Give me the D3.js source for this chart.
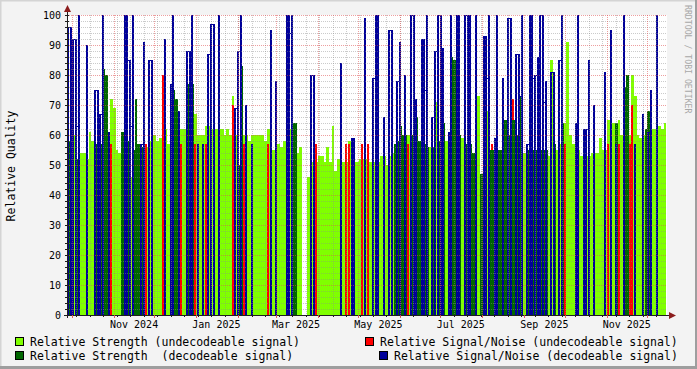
<!DOCTYPE html>
<html>
<head>
<meta charset="utf-8">
<script src="https://cdn.jsdelivr.net/npm/d3@7"></script>
<style>
  html, body { margin: 0; padding: 0; background: #f3f3f3; }
  svg text { font-family: "DejaVu Sans Mono", monospace; white-space: pre; }
</style>
</head>
<body>
<svg id="chart" width="697" height="369"></svg>
<script>
// one column every 2 days, starting here
const startDate = "2024-09-27T08:00:00Z";
const stepDays = 2;

// relative strength (height of the green area)
const strength = [
  58,64,60,52,54,54,54,52,61,58, 57,57,57,82,80,58,72,69,55,54,
  61,58,58,46,55,72,57,56,55,56, 58,60,60,58,59,58,62,57,58,75,
  72,60,62,62,77,77,77,67,60,60, 60,63,63,62,62,62,62,62,60,62,
  60,73,60,50,83,60,60,58,60,60, 60,60,60,58,62,62,55,57,57,56,
  58,62,62,64,64,54,56,0,0,46,   51,51,51,53,53,51,56,51,63,48,
  52,52,51,51,58,51,51,51,52,52, 52,51,51,51,51,51,53,53,50,53,
  54,57,58,63,60,60,60,60,68,66, 58,58,57,56,56,56,71,58,58,64,
  58,58,86,85,60,60,59,57,57,57, 54,57,73,47,55,68,55,55,55,55,
  55,55,65,60,60,65,60,73,60,54, 55,55,55,55,55,55,55,55,53,85,
  57,55,57,64,64,91,60,57,57,55, 53,53,53,53,54,54,54,59,55,55,
  65,65,64,64,65,60,76,80,60,80, 73,60,59,60,62,68,62,62,62,63,
  62,64,69
];

// 1 = decodeable signal (dark green), 0 = undecodeable (light green)
const decodeable = [
  1,1,0,1,0,0,0,0,0,0, 1,1,1,1,1,0,0,0,0,0,
  1,1,1,0,1,1,1,1,0,0, 0,0,0,0,0,0,0,0,0,1,
  1,1,0,0,1,1,1,0,0,0, 0,0,0,0,0,0,0,0,0,0,
  0,0,0,1,1,0,0,0,0,0, 0,0,0,0,0,0,0,0,0,0,
  0,0,0,1,1,0,0,0,0,0, 0,1,0,0,0,0,0,0,0,0,
  0,0,0,0,0,0,0,0,0,0, 0,0,0,0,0,0,0,0,0,0,
  0,1,1,1,1,1,0,1,1,1, 1,1,1,1,0,1,0,1,1,1,
  0,1,1,1,0,1,0,1,1,1, 1,1,0,1,1,0,1,1,1,1,
  1,1,1,1,1,1,1,1,1,0, 1,1,1,1,1,1,1,1,0,0,
  1,0,0,1,0,0,0,0,0,0, 0,0,0,0,0,0,0,0,0,0,
  0,0,0,1,0,0,1,1,0,0, 0,0,0,0,1,1,0,0,0,0,
  0,0,1
];

// relative signal/noise, decodeable (blue), 0 = none
const snrDecodeable = [
  96,79,92,63,100,0,0,90,0,0, 75,57,67,100,0,61,0,0,0,0,
  0,100,85,63,100,0,0,57,91,0, 85,57,0,0,0,0,92,0,77,100,
  0,68,0,0,88,67,100,0,57,0, 57,0,87,97,58,0,100,0,0,0,
  0,0,69,88,100,0,70,0,57,0, 0,0,0,0,0,95,0,78,0,0,
  0,100,94,100,0,0,0,0,0,0, 80,63,0,0,0,0,0,0,0,0,
  0,84,0,0,0,59,59,0,0,0, 99,0,0,79,100,58,0,66,0,95,
  57,0,78,91,0,80,0,100,72,64, 0,92,75,100,0,66,88,100,78,89,
  0,61,100,0,100,62,0,100,79,100, 0,100,0,0,93,79,100,0,59,100,
  0,79,0,99,94,0,87,73,100,0, 57,100,79,80,86,100,71,78,0,81,
  60,0,85,100,0,0,0,0,64,100, 0,62,62,85,0,70,0,0,0,81,
  0,95,0,57,0,0,100,0,0,0, 57,0,0,67,0,61,75,0,100,0,
  0,0,100
];

// relative signal/noise, undecodeable (red), 0 = none
const snrUndecodeable = [
  0,0,0,0,0,0,0,0,0,0, 0,0,0,0,0,0,57,0,0,0,
  0,0,0,0,0,0,57,0,0,57, 0,0,0,0,0,80,0,0,0,0,
  0,0,57,0,0,0,0,57,0,0, 0,57,0,0,0,0,0,0,0,0,
  0,70,0,0,0,57,0,0,0,0, 0,0,0,0,57,0,0,0,0,0,
  0,0,0,0,0,0,0,0,0,0, 0,0,57,0,0,0,0,0,0,0,
  0,0,0,57,57,0,0,0,0,57, 0,57,0,0,0,0,0,0,0,0,
  0,0,0,0,0,0,57,0,0,0, 0,0,0,0,0,0,0,0,0,0,
  0,0,0,0,0,0,0,0,0,0, 0,0,0,0,0,0,0,57,0,0,
  55,0,0,0,0,72,0,0,0,0, 0,0,0,0,0,0,0,0,0,0,
  0,0,0,0,57,0,0,0,0,0, 0,0,0,0,0,0,0,0,0,0,
  57,0,0,0,57,0,0,0,57,70, 0,0,0,0,0,0,0,0,0,0,
  0,0,0
];

const yTicks = [0, 10, 20, 30, 40, 50, 60, 70, 80, 90, 100];
const legendItems = [
  { label: "Relative Strength (undecodeable signal)", color: "#80ff00", col: 0, row: 0 },
  { label: "Relative Signal/Noise (undecodeable signal)", color: "#ff0000", col: 1, row: 0 },
  { label: "Relative Strength  (decodeable signal)", color: "#006600", col: 0, row: 1 },
  { label: "Relative Signal/Noise (decodeable signal)", color: "#000099", col: 2, row: 1 }
];

const width = 697, height = 369;
const pLeft = 67, pRight = 667, pTop = 15, pBottom = 315;

const svg = d3.select("#chart");

const x = d3.scaleUtc()
  .domain([new Date(Date.UTC(2024, 9, 1)), new Date(Date.UTC(2025, 11, 1))])
  .range([72, 647]);
const y = d3.scaleLinear().domain([0, 100]).range([pBottom, pTop]);

// background and 3d frame
svg.append("rect").attr("width", width).attr("height", height).attr("fill", "#f3f3f3");
svg.append("path").attr("d", "M0,368V0H697").attr("fill", "none").attr("stroke", "#d4d4d4").attr("stroke-width", 3);
svg.append("path").attr("d", "M0,367.5H696.5V0").attr("fill", "none").attr("stroke", "#9e9e9e").attr("stroke-width", 3);
svg.append("rect").attr("x", pLeft).attr("y", pTop).attr("width", pRight - pLeft).attr("height", pBottom - pTop).attr("fill", "#fff");

// columns
const start = new Date(startDate);
const cols = strength.map((s, i) => {
  const x0 = Math.round(x(d3.utcDay.offset(start, i * stepDays)));
  const x1 = Math.min(Math.round(x(d3.utcDay.offset(start, (i + 1) * stepDays))), pRight - 1);
  return { i, x0, w: Math.max(0, x1 - x0), s, dec: decodeable[i], b: snrDecodeable[i], r: snrUndecodeable[i] };
});

const plot = svg.append("g").attr("shape-rendering", "crispEdges");

function bars(data, value, color, narrow) {
  plot.append("g").selectAll("rect")
    .data(data)
    .join("rect")
    .attr("x", d => d.x0)
    .attr("width", d => narrow ? Math.min(2, d.w) : d.w)
    .attr("y", d => Math.round(y(value(d))))
    .attr("height", d => pBottom - Math.round(y(value(d))))
    .attr("fill", color);
}

// rrdtool order: light green, red, dark green, blue
bars(cols.filter(d => d.s > 0 && !d.dec), d => d.s, "#80ff00");
bars(cols.filter(d => d.r > 0), d => d.r, "#ff0000", true);
bars(cols.filter(d => d.s > 0 && d.dec), d => d.s, "#006600");
bars(cols.filter(d => d.b > 0), d => d.b, "#000099", true);

// blue runs: step line across the tops, like an rrd LINE
const runs = [];
let run = [];
cols.forEach(d => {
  if (d.b > 0) run.push(d);
  else { if (run.length > 1) runs.push(run); run = []; }
});
if (run.length > 1) runs.push(run);
const stepLine = d3.line().x(d => d.x0 + 1).y(d => Math.round(y(d.b)) + 0.5).curve(d3.curveStepAfter);
plot.append("g").selectAll("path").data(runs).join("path")
  .attr("d", stepLine)
  .attr("fill", "none").attr("stroke", "#000099").attr("stroke-width", 1.5);

// grid on top
const grid = svg.append("g").attr("fill", "none").attr("stroke-dasharray", "1,1");
const minorY = d3.range(2, 100, 2).filter(v => v % 10 !== 0);
grid.selectAll(".hmin").data(minorY).join("line")
  .attr("x1", pLeft).attr("x2", pRight)
  .attr("y1", d => y(d) + 0.5).attr("y2", d => y(d) + 0.5)
  .attr("stroke", "rgba(140,140,140,0.45)");

const minorX = d3.utcDay.range(new Date(Date.UTC(2024, 9, 4)), new Date(Date.UTC(2025, 11, 20)))
  .filter((d, i) => i % 10 === 0)
  .filter(d => x(d) > pLeft && x(d) < pRight);
grid.selectAll(".vmin").data(minorX).join("line")
  .attr("y1", pTop).attr("y2", pBottom)
  .attr("x1", d => Math.round(x(d)) + 0.5).attr("x2", d => Math.round(x(d)) + 0.5)
  .attr("stroke", "rgba(140,140,140,0.45)");

const months = d3.utcMonth.range(new Date(Date.UTC(2024, 8, 1)), new Date(Date.UTC(2026, 0, 1)))
  .filter(d => x(d) > pLeft && x(d) < pRight);
grid.selectAll(".vmaj").data(months).join("line")
  .attr("y1", pTop).attr("y2", pBottom)
  .attr("x1", d => Math.round(x(d)) + 0.5).attr("x2", d => Math.round(x(d)) + 0.5)
  .attr("stroke", "rgba(222,80,80,0.55)");
grid.selectAll(".hmaj").data(yTicks.filter(v => v > 0)).join("line")
  .attr("x1", pLeft).attr("x2", pRight)
  .attr("y1", d => y(d) + 0.5).attr("y2", d => y(d) + 0.5)
  .attr("stroke", "rgba(222,80,80,0.55)");

// axes
const axis = svg.append("g").attr("shape-rendering", "crispEdges");
axis.append("line").attr("x1", pLeft - 3).attr("x2", pRight + 3).attr("y1", pBottom + 0.5).attr("y2", pBottom + 0.5).attr("stroke", "#1f1f1f");
axis.append("line").attr("x1", pLeft + 0.5).attr("x2", pLeft + 0.5).attr("y1", pBottom + 3).attr("y2", pTop - 5).attr("stroke", "#1f1f1f");
axis.selectAll(".yt").data(d3.range(0, 101, 2)).join("line")
  .attr("x1", pLeft - 2).attr("x2", pLeft + 2)
  .attr("y1", d => y(d) + 0.5).attr("y2", d => y(d) + 0.5)
  .attr("stroke", "#1f1f1f");
axis.selectAll(".xt").data(minorX).join("line")
  .attr("y1", pBottom).attr("y2", pBottom + 2)
  .attr("x1", d => Math.round(x(d)) + 0.5).attr("x2", d => Math.round(x(d)) + 0.5)
  .attr("stroke", "#1f1f1f");
axis.selectAll(".xm").data(months).join("line")
  .attr("y1", pBottom).attr("y2", pBottom + 3)
  .attr("x1", d => Math.round(x(d)) + 0.5).attr("x2", d => Math.round(x(d)) + 0.5)
  .attr("stroke", "rgba(222,80,80,0.9)");
svg.append("path").attr("d", `M${pLeft - 3},${pTop - 3}L${pLeft + 4},${pTop - 3}L${pLeft + 0.5},${pTop - 10}Z`).attr("fill", "#8b1c1c");
svg.append("path").attr("d", `M${pRight + 2},${pBottom - 3}L${pRight + 2},${pBottom + 4}L${pRight + 9},${pBottom + 0.5}Z`).attr("fill", "#8b1c1c");

// tick labels
svg.append("g").selectAll("text").data(yTicks).join("text")
  .attr("x", pLeft - 6).attr("y", d => y(d) + 3.5)
  .attr("text-anchor", "end").attr("font-size", 10).attr("fill", "#000")
  .text(d => d);

const fmt = d3.utcFormat("%b %Y");
svg.append("g").selectAll("text")
  .data(d3.utcMonth.every(2).range(new Date(Date.UTC(2024, 9, 1)), new Date(Date.UTC(2025, 11, 1))))
  .join("text")
  .attr("x", d => x(d3.utcDay.offset(d, 15)))
  .attr("y", 328)
  .attr("text-anchor", "middle").attr("font-size", 10).attr("fill", "#000")
  .text(d => fmt(d));

// y title
svg.append("text")
  .attr("transform", "translate(15,166) rotate(-90)")
  .attr("text-anchor", "middle").attr("font-size", 11.5).attr("fill", "#000")
  .text("Relative Quality");

// watermark
svg.append("text")
  .attr("transform", "translate(685,5) rotate(90)")
  .attr("font-size", 8.2).attr("fill", "#a8a8a8")
  .text("RRDTOOL / TOBI OETIKER");

// legend
const legendX = [15, 365, 379];
const lg = svg.append("g").selectAll("g").data(legendItems).join("g")
  .attr("transform", d => `translate(${legendX[d.col]},${337 + d.row * 14})`);
lg.append("rect").attr("x", 0.5).attr("y", 0.5).attr("width", 8).attr("height", 8)
  .attr("fill", d => d.color).attr("stroke", "#000").attr("shape-rendering", "crispEdges");
lg.append("text").attr("x", 15).attr("y", 8.5)
  .attr("font-size", 11.5).attr("fill", "#000")
  .text(d => d.label);
</script>
</body>
</html>
